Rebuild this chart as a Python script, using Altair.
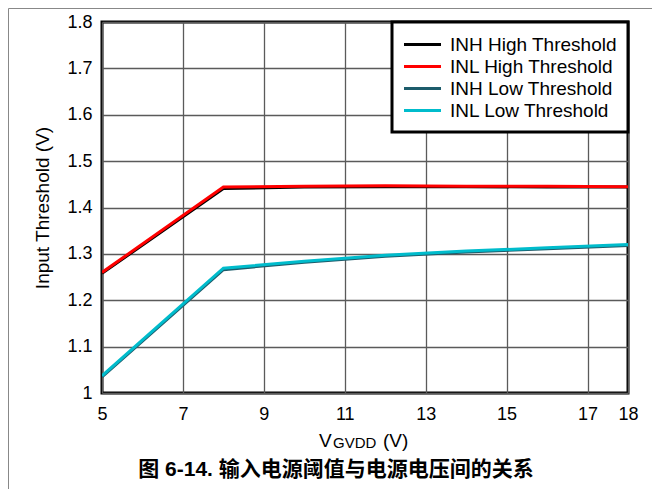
import altair as alt
import pandas as pd

# ---- data ----
vgvdd = [5, 8, 10, 12, 14, 16, 18]
inh_high = [1.258, 1.441, 1.444, 1.445, 1.445, 1.444, 1.444]
inl_high = [1.260, 1.444, 1.446, 1.447, 1.446, 1.446, 1.445]
inh_low = [1.035, 1.266, 1.282, 1.295, 1.304, 1.311, 1.318]
inl_low = [1.037, 1.269, 1.284, 1.297, 1.306, 1.313, 1.320]

series_names = ["INH High Threshold", "INL High Threshold",
                "INH Low Threshold", "INL Low Threshold"]
series_colors = ["#000000", "#ff0000", "#1d5c6b", "#00bccc"]
x_ticks = [5, 7, 9, 11, 13, 15, 17, 18]
y_ticks = [1.0, 1.1, 1.2, 1.3, 1.4, 1.5, 1.6, 1.7, 1.8]

rows = []
for i, (name, vals) in enumerate(zip(series_names, [inh_high, inl_high, inh_low, inl_low])):
    for x, y in zip(vgvdd, vals):
        rows.append({"x": x, "y": y, "series": name, "k": i})
df = pd.DataFrame(rows)

W, H = 526, 371
FONT = "Liberation Sans"

lines = alt.Chart(df).mark_line(strokeWidth=3, clip=True).encode(
    x=alt.X("x:Q", scale=alt.Scale(domain=[5, 18], nice=False, zero=False),
            axis=alt.Axis(values=x_ticks, title=None, labelPadding=12,
                          ticks=False, domain=False, labelFlush=False)),
    y=alt.Y("y:Q", scale=alt.Scale(domain=[1, 1.8], nice=False, zero=False),
            axis=alt.Axis(values=y_ticks, format="~g", title="Input Threshold (V)",
                          titlePadding=14, labelPadding=10, ticks=False, domain=False,
                          titleFontWeight="normal", titleFontSize=19,
                          titleFont=FONT, titleColor="#000")),
    color=alt.Color("series:N",
                    scale=alt.Scale(domain=series_names, range=series_colors),
                    legend=alt.Legend(title=None, orient="top-right", offset=0,
                                      symbolType="M-1.85,0H1.85", symbolSize=400,
                                      symbolOffset=8, symbolStrokeWidth=3,
                                      labelFontSize=19, labelLimit=0,
                                      labelFont=FONT, labelColor="#000",
                                      labelOffset=16, rowPadding=0, padding=11,
                                      fillColor="white", strokeColor="black")),
    order=alt.Order("k:Q"),
)

one = alt.Data(values=[{"a": 1}])

def txt(text, x, y, size, weight="normal", align="left", font=FONT):
    return alt.Chart(one).mark_text(text=text, fontSize=size, fontWeight=weight,
                                    align=align, baseline="alphabetic", font=font,
                                    color="black").encode(x=alt.value(x), y=alt.value(y))

xt_v = txt("V", 217, 425, 19)
xt_sub = txt("GVDD", 231, 426, 15)
xt_unit = txt("(V)", 281, 425, 19)
title = txt("图 6-14. 输入电源阈值与电源电压间的关系", 234, 454, 21, weight="bold",
            align="center", font="Liberation Sans, Noto Sans CJK SC")

border_l = alt.Chart(one).mark_rule(color="#888", strokeWidth=1).encode(
    x=alt.value(-93.5), y=alt.value(-13.5), y2=alt.value(H + 96))
border_t = alt.Chart(one).mark_rule(color="#888", strokeWidth=1).encode(
    x=alt.value(-93.5), x2=alt.value(W + 24), y=alt.value(-13.5))

chart = alt.layer(lines, xt_v, xt_sub, xt_unit, title, border_l, border_t).properties(
    width=W, height=H,
    autosize=alt.AutoSizeParams(type="none"),
    padding={"left": 94, "top": 14, "right": 24, "bottom": 96},
    background="white",
).configure_view(
    stroke="black", strokeWidth=3
).configure_axis(
    grid=True, gridColor="#5a5a5a", gridWidth=1.3, gridOpacity=1,
    labelFont=FONT, labelFontSize=18, labelColor="#000",
).configure_legend(
    strokeWidth=3
)

chart.save("out.html", embed_options={"renderer": "svg", "actions": False})
